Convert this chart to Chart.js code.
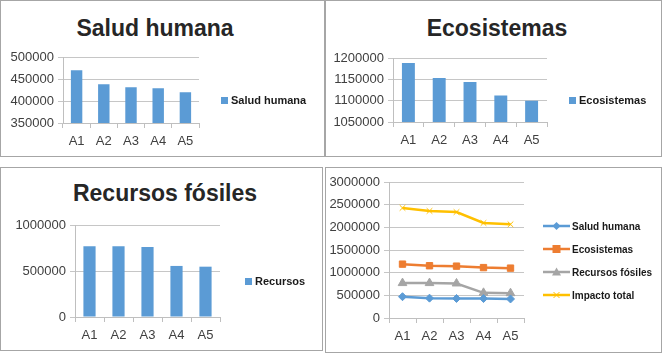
<!DOCTYPE html>
<html lang="es">
<head>
<meta charset="UTF-8">
<title>Impactos</title>
<style>
    body { margin: 0; background: #fff; width: 662px; height: 362px; position: relative; overflow: hidden; font-family: "Liberation Sans", Arial, sans-serif; }
    .panel { position: absolute; border: 1px solid #a6a6a6; box-sizing: border-box; }
    canvas { position: absolute; }
    .title { position: absolute; width: 300px; text-align: center; font-weight: bold; font-size: 23px; line-height: 23px; color: #262626; }
    .legend { position: absolute; font-weight: bold; color: #1a1a1a; }
    .legend .row { position: absolute; left: 0; display: flex; align-items: center; white-space: nowrap; }
</style>
<script src="https://cdn.jsdelivr.net/npm/chart.js"></script>
</head>
<body>

<div class="panel" style="left:0;top:0;width:325px;height:157px"></div>
<div class="panel" style="left:325px;top:0;width:337px;height:157px"></div>
<div class="panel" style="left:0;top:167px;width:323px;height:184px"></div>
<div class="panel" style="left:325px;top:167px;width:337px;height:186px"></div>

<div class="title" style="left:5px;top:17px">Salud humana</div>
<div class="title" style="left:347px;top:17px">Ecosistemas</div>
<div class="title" style="left:15px;top:182px">Recursos fósiles</div>

<canvas id="c1" width="324" height="157" style="left:0;top:0"></canvas>
<canvas id="c2" width="337" height="157" style="left:325px;top:0"></canvas>
<canvas id="c3" width="323" height="184" style="left:0;top:167px"></canvas>
<canvas id="c4" width="337" height="184" style="left:325px;top:167px"></canvas>

<script>
    // datos
    const categories = ['A1', 'A2', 'A3', 'A4', 'A5'];
    const saludHumana = [470000, 438000, 431000, 429000, 420000];
    const ecosistemas = [1188000, 1153000, 1144000, 1112000, 1100000];
    const recursosFosiles = [770000, 770000, 762000, 555000, 547000];
    const impactoTotal = [2428000, 2361000, 2337000, 2096000, 2067000];

    const barColor = '#5b9bd5';
    const tickFont = { family: '"Liberation Sans", Arial, sans-serif', size: 13 };
    const tickColor = '#404040';
    const gridColor = '#c6c6c6';
    const axisColor = '#bfbfbf';

    function fixWidth(w) { return (scale) => { scale.width = w; }; }
    function fixHeight(h) { return (scale) => { scale.height = h; }; }

    function scalesFor(yMin, yMax, step, yWidth) {
        return {
            x: {
                offset: true,
                grid: { offset: true, drawOnChartArea: false, drawTicks: true, tickLength: 5, color: axisColor },
                border: { color: axisColor },
                ticks: { font: tickFont, color: tickColor, padding: 6, maxRotation: 0 },
                afterFit: fixHeight(30)
            },
            y: {
                min: yMin,
                max: yMax,
                grid: { color: gridColor, tickLength: 5 },
                border: { color: axisColor },
                ticks: {
                    stepSize: step, font: tickFont, color: tickColor, padding: 4,
                    callback: (v) => String(v)   // sin separador de miles
                },
                afterFit: fixWidth(yWidth)
            }
        };
    }

    function barChart(id, label, values, yMin, yMax, step, yWidth, padding) {
        return new Chart(document.getElementById(id), {
            type: 'bar',
            data: {
                labels: categories,
                datasets: [{
                    label: label,
                    data: values,
                    backgroundColor: barColor,
                    barPercentage: 0.42,
                    categoryPercentage: 1
                }]
            },
            options: {
                responsive: false,
                animation: false,
                layout: { padding: padding },
                plugins: { legend: { display: false }, tooltip: { enabled: false } },
                scales: scalesFor(yMin, yMax, step, yWidth)
            }
        });
    }

    barChart('c1', 'Salud humana', saludHumana, 350000, 500000, 50000, 60, { left: 3, top: 57, right: 125, bottom: 4 });
    barChart('c2', 'Ecosistemas', ecosistemas, 1050000, 1200000, 50000, 65, { left: 3, top: 58, right: 115, bottom: 5 });
    barChart('c3', 'Recursos', recursosFosiles, 0, 1000000, 500000, 65, { left: 10, top: 58, right: 103, bottom: 4 });

    const lineSeries = [
        { label: 'Salud humana', data: saludHumana, color: '#5b9bd5', marker: 'rectRot', radius: 4 },
        { label: 'Ecosistemas', data: ecosistemas, color: '#ed7d31', marker: 'rect', radius: 4.5 },
        { label: 'Recursos fósiles', data: recursosFosiles, color: '#a5a5a5', marker: 'triangle', radius: 5 },
        { label: 'Impacto total', data: impactoTotal, color: '#ffc000', marker: 'crossRot', radius: 4 }
    ];

    new Chart(document.getElementById('c4'), {
        type: 'line',
        data: {
            labels: categories,
            datasets: lineSeries.map(s => ({
                label: s.label,
                data: s.data,
                borderColor: s.color,
                backgroundColor: s.color,
                borderWidth: 2.5,
                pointStyle: s.marker,
                pointRadius: s.radius,
                pointBorderWidth: 1,
                tension: 0
            }))
        },
        options: {
            responsive: false,
            animation: false,
            layout: { padding: { left: 2, top: 15, right: 138, bottom: 3 } },
            plugins: { legend: { display: false }, tooltip: { enabled: false } },
            scales: scalesFor(0, 3000000, 500000, 62)
        }
    });

    // leyendas
    function squareLegend(x, y, label) {
        const box = document.createElement('div');
        box.className = 'legend';
        box.style.left = x + 'px';
        box.style.top = (y - 7) + 'px';
        box.style.fontSize = '11px';
        box.innerHTML = '<div class="row" style="top:0;height:14px">' +
            '<span style="display:inline-block;width:7px;height:7px;background:' + barColor + ';margin-right:3px"></span>' +
            '<span>' + label + '</span></div>';
        document.body.appendChild(box);
    }
    squareLegend(221, 100, 'Salud humana');
    squareLegend(569, 100, 'Ecosistemas');
    squareLegend(245, 281, 'Recursos');

    function markerSvg(s) {
        const c = s.color;
        let m = '';
        if (s.marker === 'rectRot') m = '<polygon points="13.5,1 17.5,5 13.5,9 9.5,5" fill="' + c + '"/>';
        if (s.marker === 'rect') m = '<rect x="9.5" y="1" width="8" height="8" fill="' + c + '"/>';
        if (s.marker === 'triangle') m = '<polygon points="13.5,0.5 18,8.5 9,8.5" fill="' + c + '"/>';
        if (s.marker === 'crossRot') m = '<path d="M10.5,2 L16.5,8 M16.5,2 L10.5,8" stroke="' + c + '" stroke-width="1"/>';
        return '<svg width="27" height="10" style="margin-right:2px">' +
            '<line x1="0" y1="5" x2="27" y2="5" stroke="' + c + '" stroke-width="2.5"/>' + m + '</svg>';
    }

    const lg = document.createElement('div');
    lg.className = 'legend';
    lg.style.left = '543px';
    lg.style.top = '0px';
    lg.style.fontSize = '10px';
    lineSeries.forEach((s, i) => {
        const row = document.createElement('div');
        row.className = 'row';
        row.style.top = (226 + i * 23 - 6) + 'px';
        row.style.height = '12px';
        row.innerHTML = markerSvg(s) + '<span>' + s.label + '</span>';
        lg.appendChild(row);
    });
    document.body.appendChild(lg);
</script>
</body>
</html>
